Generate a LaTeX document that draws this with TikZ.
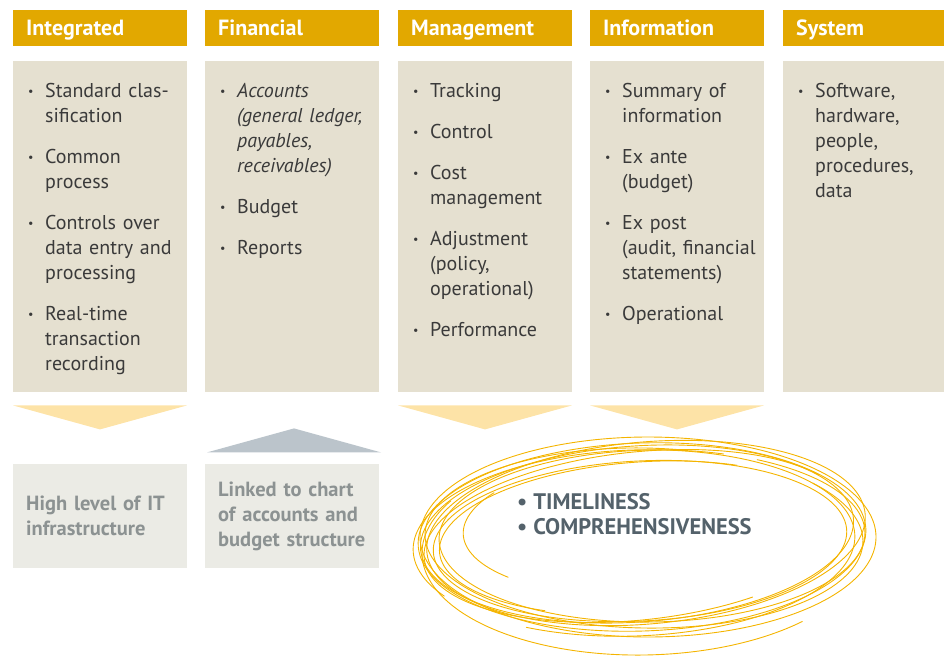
\documentclass[tikz,border=0pt]{standalone}
\usepackage{fontspec}
\setmainfont{PT Sans}
\definecolor{gold}{RGB}{226,168,0}
\definecolor{beige}{RGB}{229,224,208}
\definecolor{pale}{RGB}{235,235,229}
\definecolor{arrowyel}{RGB}{253,227,167}
\definecolor{arrowgrey}{RGB}{187,196,203}
\definecolor{bodytxt}{RGB}{58,58,58}
\definecolor{greytxt}{RGB}{140,146,146}
\definecolor{slate}{RGB}{84,98,107}
\definecolor{scribble}{RGB}{244,180,0}
\newcommand{\li}[1]{\lineskip=0pt\lineskiplimit=0pt\noindent\makebox[19pt][l]{\rule{0pt}{16pt}\hspace{2pt}\raisebox{1.5pt}{\scalebox{0.6}{\textbullet}}}\parbox[t]{150pt}{\raggedright #1\rule[-9pt]{0pt}{9pt}}\par}
\newcommand{\itgap}{\vskip16pt}
\begin{document}
\begin{tikzpicture}[x=1pt,y=-1pt,
  hdr/.style={anchor=north west, fill=gold, text=white, font=\fontsize{22}{25}\selectfont\bfseries,
    minimum height=36pt, inner ysep=0pt, inner xsep=13pt, text width=148pt, align=left,
    text height=14pt, text depth=0pt},
  bodybox/.style={anchor=north west, fill=beige, minimum width=174pt, minimum height=331pt, inner sep=0pt},
  listtext/.style={anchor=north west, inner sep=0pt, text width=170pt, align=left, text=bodytxt,
    font=\fontsize{20}{25}\selectfont},
  lowbox/.style={anchor=north west, fill=pale, minimum height=104pt, inner ysep=0pt, inner xsep=13pt,
    text width=148pt, align=left, text=greytxt, font=\fontsize{20.5}{25}\selectfont\bfseries},
  scrib/.style={draw=scribble, line width=0.9pt, line cap=round}
]
\useasboundingbox (0,0) rectangle (944,658);

% headers
\node[hdr] (h1) at (13,10) {Integrated};
\node[hdr] (h2) at (205,10) {Financial};
\node[hdr] (h3) at (398,10) {Management};
\node[hdr] (h4) at (590,10) {Information};
\node[hdr, text width=135pt] (h5) at (783,10) {System};

% body boxes
\node[bodybox] (b1) at (13,61) {};
\node[bodybox] (b2) at (205,61) {};
\node[bodybox] (b3) at (398,61) {};
\node[bodybox] (b4) at (590,61) {};
\node[bodybox, minimum width=161pt] (b5) at (783,61) {};

% lists
\node[listtext] (t1) at (26,81) {\li{Standard clas-\\sification}\itgap\li{Common\\process}\itgap\li{Controls over\\data entry and\\processing}\itgap\li{Real-time\\transaction\\recording}};
\node[listtext] (t2) at (218,81) {\li{{\itshape Accounts\\(general ledger,\\payables,\\receivables)}}\itgap\li{Budget}\itgap\li{Reports}};
\node[listtext] (t3) at (411,81) {\li{Tracking}\itgap\li{Control}\itgap\li{Cost\\management}\itgap\li{Adjustment\\(policy,\\operational)}\itgap\li{Performance}};
\node[listtext] (t4) at (603,81) {\li{Summary of\\information}\itgap\li{Ex ante\\(budget)}\itgap\li{Ex post\\(audit, financial\\statements)}\itgap\li{Operational}};
\node[listtext, text width=150pt] (t5) at (796,81) {\li{Software,\\hardware,\\people,\\procedures,\\data}};

% arrows
\fill[arrowyel] (b1.south west) ++(0,13) -- ++(174,0) -- ++(-87,24) -- cycle;
\fill[arrowyel] (b3.south west) ++(0,13) -- ++(174,0) -- ++(-87,24) -- cycle;
\fill[arrowyel] (b4.south west) ++(0,13) -- ++(174,0) -- ++(-87,24) -- cycle;
\fill[arrowgrey] (b2.south west) ++(2,60) -- ++(174,0) -- ++(-87,-24) -- cycle;

% bottom boxes
\node[lowbox] (l1) at (13,464) {High level of IT\\infrastructure};
\node[lowbox] (l2) at (205,464) {Linked to chart\\of accounts and\\budget structure};

% scribbled ellipse
\foreach \cx/\cy/\rx/\ry/\r/\s/\e in {
  642/537/224/94/-2/0/360,
  637/534/217/88/-4/30/400,
  648/537/228/100/0/-20/340,
  640/541/207/80/-3/100/470,
  646/533/220/91/-5/200/560,
  634/543/221/93/-2/150/480,
  652/536/213/86/-1/-60/290,
  641/538/202/76/-4/120/300,
  644/550/222/105/-1/45/210,
  638/536/215/84/-6/60/330,
  644/538/219/90/1/320/640,
  645/525/182/70/-3/140/215}
{
  \draw[scrib] plot[domain=\s:\e, samples=140, smooth, variable=\t]
    ({\cx + \rx*cos(\t)*cos(\r) - \ry*sin(\t)*sin(\r)}, {\cy + \rx*cos(\t)*sin(\r) + \ry*sin(\t)*cos(\r)});
}

\node[anchor=north west, inner sep=0pt, align=left, text=slate, font=\fontsize{22.5}{25}\selectfont\bfseries] (e1) at (517,493)
  {\rule{0pt}{16pt}\textbullet\hspace{6pt}TIMELINESS\\\textbullet\hspace{6pt}COMPREHENSIVENESS};
\end{tikzpicture}
\end{document}
